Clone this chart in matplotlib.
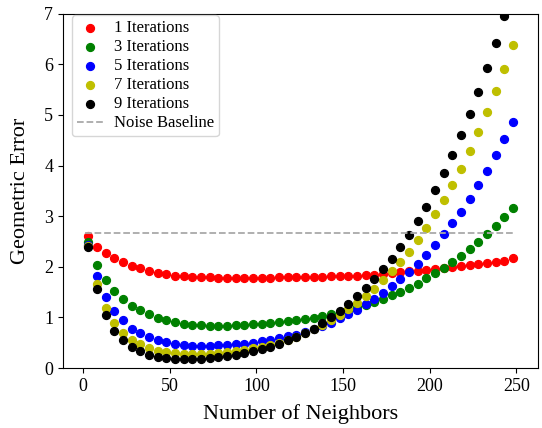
import numpy as np
import matplotlib
matplotlib.use('Agg')
import matplotlib.pyplot as plt

plt.rcParams['font.family'] = ['Liberation Serif', 'DejaVu Serif']

neighbors = list(range(3, 250, 5))

err_1 = [2.60, 2.40, 2.27, 2.17, 2.09, 2.02, 1.97, 1.92, 1.87, 1.85,
         1.82, 1.81, 1.80, 1.79, 1.79, 1.78, 1.78, 1.78, 1.78, 1.78,
         1.78, 1.78, 1.79, 1.79, 1.79, 1.79, 1.80, 1.80, 1.81, 1.81,
         1.82, 1.82, 1.83, 1.84, 1.86, 1.87, 1.89, 1.91, 1.92, 1.94,
         1.95, 1.97, 1.99, 2.01, 2.03, 2.05, 2.07, 2.09, 2.12, 2.17]
err_3 = [2.50, 2.04, 1.73, 1.52, 1.36, 1.23, 1.14, 1.06, 0.99, 0.95,
         0.91, 0.88, 0.86, 0.85, 0.84, 0.84, 0.84, 0.85, 0.855, 0.87,
         0.88, 0.89, 0.91, 0.93, 0.95, 0.97, 0.99, 1.02, 1.06, 1.10,
         1.15, 1.20, 1.25, 1.30, 1.36, 1.44, 1.51, 1.59, 1.67, 1.77,
         1.88, 1.98, 2.10, 2.22, 2.35, 2.50, 2.64, 2.81, 2.98, 3.16]
err_5 = [2.43, 1.81, 1.41, 1.13, 0.94, 0.78, 0.69, 0.61, 0.55, 0.51,
         0.48, 0.45, 0.44, 0.44, 0.44, 0.45, 0.45, 0.47, 0.48, 0.50,
         0.53, 0.56, 0.59, 0.63, 0.66, 0.71, 0.77, 0.84, 0.90, 0.98,
         1.06, 1.15, 1.26, 1.36, 1.48, 1.62, 1.75, 1.90, 2.06, 2.24,
         2.43, 2.64, 2.86, 3.09, 3.34, 3.61, 3.90, 4.20, 4.52, 4.86]
err_7 = [2.41, 1.66, 1.19, 0.90, 0.70, 0.55, 0.47, 0.40, 0.34, 0.31,
         0.29, 0.28, 0.28, 0.28, 0.28, 0.30, 0.31, 0.33, 0.36, 0.39,
         0.42, 0.46, 0.50, 0.55, 0.61, 0.69, 0.77, 0.85, 0.95, 1.05,
         1.16, 1.29, 1.42, 1.57, 1.73, 1.91, 2.10, 2.30, 2.53, 2.77,
         3.04, 3.32, 3.62, 3.94, 4.29, 4.66, 5.05, 5.47, 5.91, 6.39]
err_9 = [2.39, 1.56, 1.04, 0.74, 0.55, 0.41, 0.33, 0.26, 0.22, 0.20,
         0.18, 0.17, 0.17, 0.18, 0.20, 0.22, 0.24, 0.26, 0.29, 0.33,
         0.38, 0.42, 0.48, 0.55, 0.61, 0.70, 0.78, 0.89, 1.01, 1.13,
         1.27, 1.42, 1.58, 1.75, 1.95, 2.16, 2.39, 2.63, 2.90, 3.19,
         3.51, 3.85, 4.21, 4.60, 5.01, 5.46, 5.92, 6.42, 6.96, 7.55]
noise_baseline = 2.675

series = [(err_1, 'r', '1 Iterations'), (err_3, 'g', '3 Iterations'),
          (err_5, 'b', '5 Iterations'), (err_7, 'y', '7 Iterations'),
          (err_9, 'k', '9 Iterations')]

fig = plt.figure(figsize=(5.42, 4.28), dpi=100)
ax = fig.add_axes([0.116, 0.140, 0.877, 0.828])

for vals, c, lab in series:
    ax.scatter(neighbors, vals, c=c, s=32, label=lab)
ax.plot([neighbors[0] - 2, neighbors[-1]], [noise_baseline] * 2, '--', color='darkgray',
        lw=1.3, label='Noise Baseline')

ax.set_xlim(-11.7, 262.6)
ax.set_ylim(0, 7)
ax.set_xlabel('Number of Neighbors', fontsize=16, labelpad=7)
ax.set_ylabel('Geometric Error', fontsize=16, labelpad=10)
ax.tick_params(labelsize=13)
ax.legend(loc='upper left', bbox_to_anchor=(0.019, 0.995), borderaxespad=0,
          fontsize=12, handlelength=1.6, handletextpad=0.6, borderpad=0.3,
          labelspacing=0.18)

fig.savefig('out.png', dpi=100)
